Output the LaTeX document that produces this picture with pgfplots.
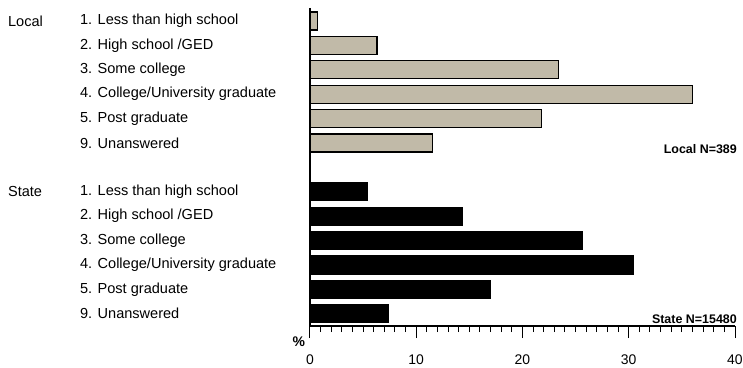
\documentclass[border=0pt]{standalone}
\usepackage{fontspec}
\setmainfont{Liberation Sans}
\usepackage{pgfplots}
\pgfplotsset{compat=1.18}
\definecolor{tanbar}{RGB}{193,186,168}
\tikzset{catlab/.style={anchor=west, inner sep=0pt, font=\fontsize{14.6}{16}\selectfont}}
\begin{document}
\begin{tikzpicture}
\begin{axis}[
  scale only axis, width=425bp, height=318bp,
  xmin=0, xmax=40, ymin=-12.5, ymax=0.53,
  axis line style={draw=none},
  xtick={0,10,20,30,40}, minor x tick num=9,
  xtick pos=bottom, tick align=outside,
  major tick length=12bp, minor tick length=6bp,
  tick style={draw=black, line width=1bp},
  ytick=\empty,
  xticklabel style={font=\fontsize{14}{16}\selectfont, inner sep=0pt, yshift=-17bp},
  /pgf/number format/assume math mode=true,
  clip=false,
]
\addplot[xbar, bar shift=0pt, bar width=18bp, fill=tanbar, draw=black, line width=1.2bp] coordinates {
  (0.7,0) (6.3,-1) (23.4,-2) (36.0,-3) (21.8,-4) (11.5,-5)
};
\addplot[xbar, bar shift=0pt, bar width=18bp, fill=black, draw=black, line width=1.2bp] coordinates {
  (5.4,-7) (14.3,-8) (25.6,-9) (30.4,-10) (17.0,-11) (7.4,-12)
};
\draw[line width=1.3bp] (rel axis cs:0,1) -- (rel axis cs:0,0) -- (rel axis cs:1,0);
\node[catlab] at (axis cs:-21.65,0) {1. Less than high school};
\node[catlab] at (axis cs:-21.65,-1) {2. High school /GED};
\node[catlab] at (axis cs:-21.65,-2) {3. Some college};
\node[catlab] at (axis cs:-21.65,-3) {4. College/University graduate};
\node[catlab] at (axis cs:-21.65,-4) {5. Post graduate};
\node[catlab] at (axis cs:-21.65,-5) {9. Unanswered};
\node[catlab] at (axis cs:-21.65,-7) {1. Less than high school};
\node[catlab] at (axis cs:-21.65,-8) {2. High school /GED};
\node[catlab] at (axis cs:-21.65,-9) {3. Some college};
\node[catlab] at (axis cs:-21.65,-10) {4. College/University graduate};
\node[catlab] at (axis cs:-21.65,-11) {5. Post graduate};
\node[catlab] at (axis cs:-21.65,-12) {9. Unanswered};
\node[catlab] at (axis cs:-28.43,0) {Local};
\node[catlab] at (axis cs:-28.43,-7) {State};
\node[anchor=east, inner sep=0pt, font=\bfseries\fontsize{12.5}{14}\selectfont] at (axis cs:40.19,-5.25) {Local N=389};
\node[anchor=east, inner sep=0pt, font=\bfseries\fontsize{12.5}{14}\selectfont] at (axis cs:40.19,-12.22) {State N=15480};
\node[inner sep=0pt, font=\bfseries\fontsize{14}{16}\selectfont] at (axis cs:-1.04,-13.13) {\%};
\end{axis}
\path (-310bp,-42bp) rectangle (433bp,326bp);
\end{tikzpicture}
\end{document}
